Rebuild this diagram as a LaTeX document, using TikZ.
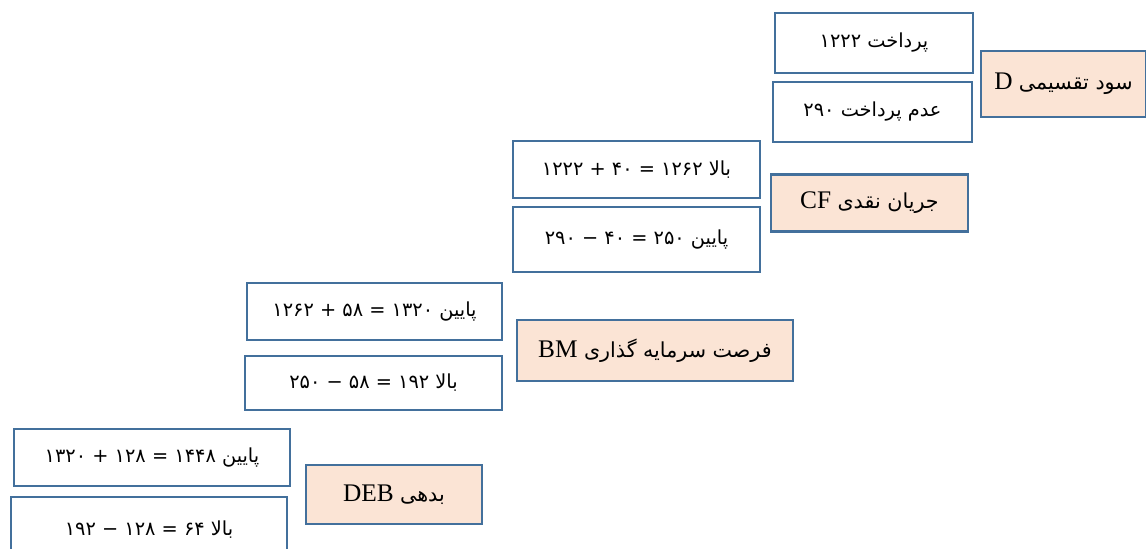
\documentclass[tikz,border=0pt]{standalone}
\usepackage{fontspec}
\setmainfont{Liberation Serif}
\newfontfamily\farsi[Script=Arabic]{DejaVu Sans}
\TeXXeTstate=1
\definecolor{boxblue}{RGB}{67,112,156}
\definecolor{peach}{RGB}{251,228,213}
\newcommand\keyfa[1]{{\farsi\fontsize{15.5}{18}\selectfont #1}}

\begin{document}
\begin{tikzpicture}[x=0.75pt,y=-0.75pt,
  size/.style 2 args={minimum width=#1*0.75pt,minimum height=#2*0.75pt},
  valbox/.style={draw=boxblue,line width=2pt,fill=white,inner sep=0pt,
    font=\farsi\fontsize{14.5}{17}\selectfont},
  keybox/.style={valbox,fill=peach,font=\fontsize{19}{21}\selectfont}]
  \useasboundingbox (0,0) rectangle (1146,549);

  \node[valbox,size={198}{60}] (payD) at (874,43) {\beginR پرداخت ۱۲۲۲\endR};
  \node[valbox,size={199}{60}] (nopayD) at (872.5,112) {\beginR عدم پرداخت ۲۹۰\endR};
  \node[keybox,size={165}{66}] (D) at (1063.5,84) {\beginR\keyfa{سود تقسیمی} \beginL D\endL\endR};

  \node[valbox,size={247}{57}] (upCF) at (636.5,169.5) {\beginR بالا ۱۲۶۲ = ۴۰ + ۱۲۲۲\endR};
  \node[valbox,size={247}{65}] (downCF) at (636.5,239.5) {\beginR پایین ۲۵۰ = ۴۰ − ۲۹۰\endR};
  \node[keybox,size={197}{57}] (CF) at (869.5,203) {\beginR\keyfa{جریان نقدی} \beginL CF\endL\endR};

  \node[valbox,size={255}{57}] (downBM) at (374.5,311.5) {\beginR پایین ۱۳۲۰ = ۵۸ + ۱۲۶۲\endR};
  \node[valbox,size={257}{54}] (upBM) at (373.5,383) {\beginR بالا ۱۹۲ = ۵۸ − ۲۵۰\endR};
  \node[keybox,size={276}{61}] (BM) at (655,350.5) {\beginR\keyfa{فرصت سرمایه گذاری} \beginL BM\endL\endR};

  \node[valbox,size={276}{57}] (downDEB) at (152,457.5) {\beginR پایین ۱۴۴۸ = ۱۲۸ + ۱۳۲۰\endR};
  \node[valbox,size={276}{66}] (upDEB) at (149,530) {\beginR بالا ۶۴ = ۱۲۸ − ۱۹۲\endR};
  \node[keybox,size={176}{59}] (DEB) at (394,494.5) {\beginR\keyfa{بدهی} \beginL DEB\endL\endR};

\end{tikzpicture}
\end{document}
